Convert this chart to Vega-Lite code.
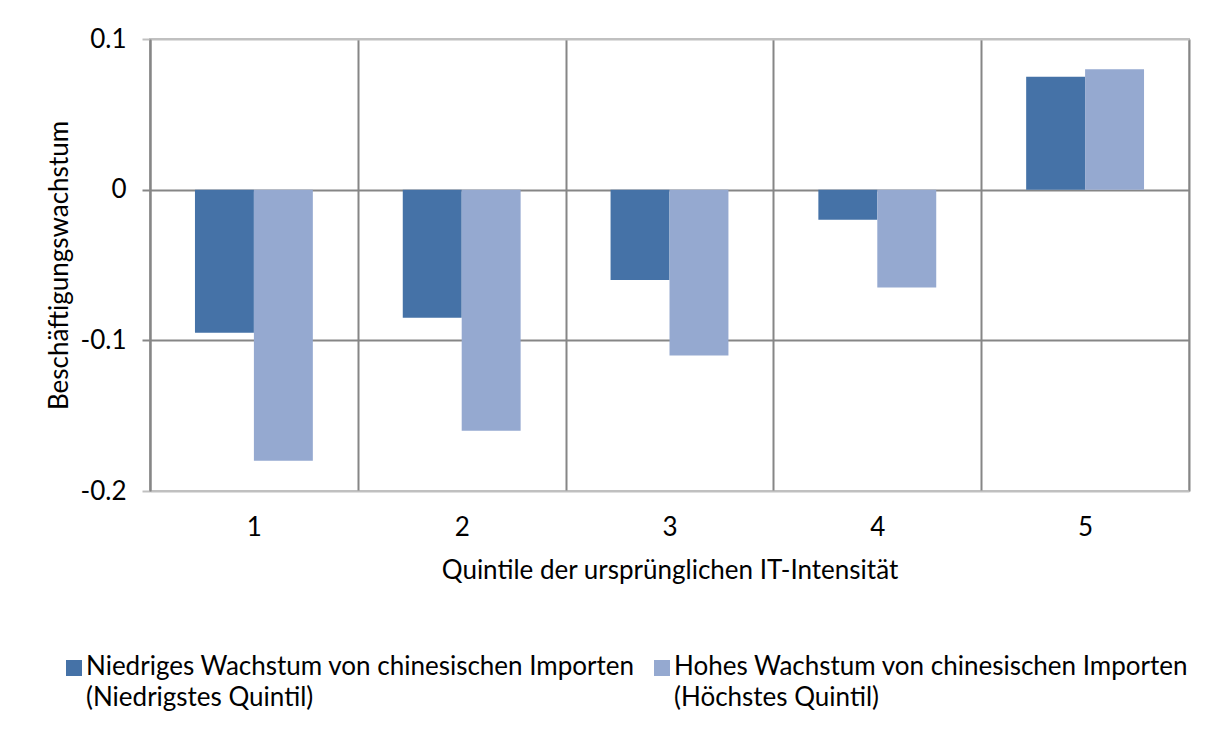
{
  "$schema": "https://vega.github.io/schema/vega-lite/v6.json",
  "width": 1039,
  "height": 452,
  "autosize": {"type": "none"},
  "padding": {"left": 150, "top": 39, "right": 20, "bottom": 265},
  "background": "white",
  "data": {
    "values": [
      {"quintil": "1", "serie": "Niedriges Wachstum von chinesischen Importen (Niedrigstes Quintil)", "wert": -0.095},
      {"quintil": "1", "serie": "Hohes Wachstum von chinesischen Importen (Höchstes Quintil)", "wert": -0.18},
      {"quintil": "2", "serie": "Niedriges Wachstum von chinesischen Importen (Niedrigstes Quintil)", "wert": -0.085},
      {"quintil": "2", "serie": "Hohes Wachstum von chinesischen Importen (Höchstes Quintil)", "wert": -0.16},
      {"quintil": "3", "serie": "Niedriges Wachstum von chinesischen Importen (Niedrigstes Quintil)", "wert": -0.06},
      {"quintil": "3", "serie": "Hohes Wachstum von chinesischen Importen (Höchstes Quintil)", "wert": -0.11},
      {"quintil": "4", "serie": "Niedriges Wachstum von chinesischen Importen (Niedrigstes Quintil)", "wert": -0.02},
      {"quintil": "4", "serie": "Hohes Wachstum von chinesischen Importen (Höchstes Quintil)", "wert": -0.065},
      {"quintil": "5", "serie": "Niedriges Wachstum von chinesischen Importen (Niedrigstes Quintil)", "wert": 0.075},
      {"quintil": "5", "serie": "Hohes Wachstum von chinesischen Importen (Höchstes Quintil)", "wert": 0.08}
    ]
  },
  "mark": {"type": "bar"},
  "encoding": {
    "x": {
      "field": "quintil",
      "type": "ordinal",
      "scale": {"paddingInner": 0, "paddingOuter": 0},
      "axis": {
        "title": "Quintile der ursprünglichen IT-Intensität",
        "labelAngle": 0,
        "tickBand": "extent",
        "ticks": false,
        "domain": false,
        "grid": true,
        "gridColor": "#868686",
        "gridWidth": 2,
        "labelPadding": 23,
        "titlePadding": 17
      }
    },
    "xOffset": {
      "field": "serie",
      "type": "nominal",
      "sort": ["Niedriges Wachstum von chinesischen Importen (Niedrigstes Quintil)", "Hohes Wachstum von chinesischen Importen (Höchstes Quintil)"],
      "scale": {"paddingInner": 0, "paddingOuter": 0.763}
    },
    "y": {
      "field": "wert",
      "type": "quantitative",
      "scale": {"domain": [-0.2, 0.1], "nice": false, "zero": false},
      "axis": {
        "title": "Beschäftigungswachstum",
        "values": [-0.2, -0.1, 0, 0.1],
        "labelExpr": "toString(round(datum.value*10)/10)",
        "labelPadding": 16,
        "tickSize": 8,
        "tickWidth": 2,
        "tickColor": {"condition": {"test": "datum.value == 0.1 || datum.value == -0.2", "value": "#c0c0c0"}, "value": "#868686"},
        "gridColor": {"condition": {"test": "datum.value == 0.1 || datum.value == -0.2", "value": "#c0c0c0"}, "value": "#868686"},
        "gridWidth": 2,
        "domain": true,
        "domainColor": "#868686",
        "domainWidth": 2,
        "titlePadding": 8
      }
    },
    "color": {
      "field": "serie",
      "type": "nominal",
      "sort": ["Niedriges Wachstum von chinesischen Importen (Niedrigstes Quintil)", "Hohes Wachstum von chinesischen Importen (Höchstes Quintil)"],
      "scale": {"range": ["#4572A7", "#95A9D0"]},
      "legend": {
        "title": null,
        "orient": "none",
        "legendX": -89,
        "legendY": 616,
        "direction": "horizontal",
        "columns": 2,
        "columnPadding": 14,
        "padding": 0,
        "symbolType": "square",
        "symbolSize": 256,
        "symbolStrokeWidth": 0,
        "symbolOpacity": 1,
        "labelOffset": -1,
        "labelLimit": 0,
        "labelBaseline": "top",
        "labelExpr": "[slice(datum.label, 0, indexof(datum.label, ' (')), slice(datum.label, indexof(datum.label, ' (') + 1)]",
        "encode": {
          "labels": {"update": {"dy": {"value": -14}, "lineHeight": {"value": 31}}}
        }
      }
    }
  },
  "config": {
    "font": "Lato",
    "view": {"stroke": "#c0c0c0", "strokeWidth": 2},
    "axis": {
      "labelFont": "Lato",
      "labelFontSize": 26,
      "labelColor": "#000000",
      "titleFont": "Lato",
      "titleFontSize": 26,
      "titleFontWeight": "normal",
      "titleColor": "#000000"
    },
    "legend": {
      "labelFont": "Lato",
      "labelFontSize": 26,
      "labelColor": "#000000"
    }
  }
}
